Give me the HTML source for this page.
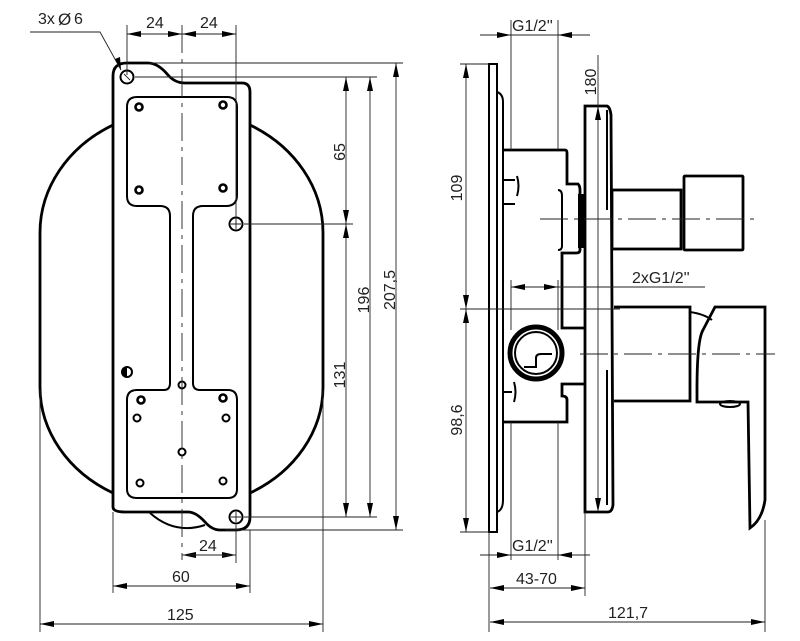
<!DOCTYPE html>
<html><head><meta charset="utf-8"><style>
html,body{margin:0;padding:0;background:#fff}
svg{display:block}
text{font-family:"Liberation Sans",sans-serif;font-size:16px;fill:#222}
.t{stroke:#000;stroke-width:2.8;fill:none}
.m{stroke:#000;stroke-width:2;fill:none}
.h{stroke:#222;stroke-width:0.9;fill:none}
.c{stroke:#222;stroke-width:0.9;fill:none;stroke-dasharray:28 6 4 6}
</style></head><body>
<svg width="800" height="641" viewBox="0 0 800 641" xmlns="http://www.w3.org/2000/svg">

<!-- LEFT VIEW -->
<path class="t" d="M113,125 A141,123 0 0 0 40,233 V387 A141,121 0 0 0 113,493"/>
<path class="t" d="M250,125 A141,123 0 0 1 323,233 V387 A141,121 0 0 1 250,493"/>
<path class="m" d="M150,513 Q175,535 205,525"/>
<path class="t" d="M113,507 V76 Q113,63 127,63 H148 Q158,63 168,75 Q175,83 185,83 H242 Q250,83 250,92 V517 Q250,530 236,530 H220 Q212,530 205,522 Q196,512 188,512 H125 Q113,512 113,507 Z"/>
<path class="m" d="M137,97 H227 Q237,97 237,107 V195 Q237,206 226,206 H203 Q193,206 193,216 V383 Q193,390 200,390 H228 Q237,390 237,400 V489 Q237,498 228,498 H137 Q127,498 127,489 V400 Q127,390 137,390 H164 Q170,390 170,383 V216 Q170,206 160,206 H137 Q127,206 127,196 V107 Q127,97 137,97 Z"/>
<g class="m">
<circle cx="127" cy="77" r="6.5"/><circle cx="236" cy="224" r="6.5"/><circle cx="236" cy="517" r="6.5"/>
<circle cx="139" cy="107" r="3.5" stroke-width="2.6"/><circle cx="223" cy="105" r="3.5" stroke-width="2.6"/>
<circle cx="139" cy="190" r="3.5" stroke-width="2.6"/><circle cx="223" cy="188" r="3.5" stroke-width="2.6"/>
<circle cx="141" cy="400" r="3.5" stroke-width="2.6"/><circle cx="223" cy="398" r="3.5" stroke-width="2.6"/>
<circle cx="137" cy="418" r="3.5"/><circle cx="226" cy="418" r="3.5"/>
<circle cx="140" cy="483" r="3.5"/><circle cx="223" cy="481" r="3.5"/>
<circle cx="182" cy="385" r="3.5"/><circle cx="182" cy="452" r="3.5"/>
</g>
<circle cx="127" cy="372" r="5" fill="#fff" stroke="#000" stroke-width="2"/>
<path d="M127,367 A5,5 0 0 0 127,377 Z" fill="#000"/>
<path class="h" d="M124,74 L130,80 M231,224 H241 M236,219 V229 M231,517 H241 M236,512 V522"/>
<line class="c" x1="182" y1="25" x2="182" y2="560"/>
<path class="h" d="M127,25 V75 M236,25 V224 M30,32 H100 L121,70"/>
<line class="h" x1="127" y1="34" x2="236" y2="34"/>
<path d="M127,34 l14,-3 v6z M182,34 l-14,-3 v6z M182,34 l14,-3 v6z M236,34 l-14,-3 v6z M121,70 l-6,-11 l5,-2z" fill="#000"/>
<text x="146" y="28">24</text><text x="200" y="28">24</text>
<text x="38" y="24">3x</text><text x="58" y="25" style="font-size:17px">Ø</text><text x="74" y="24">6</text>
<path class="h" d="M150,63 H403 M135,77 H377 M244,224 H353 M244,517 H377 M225,530 H403"/>
<line class="h" x1="346" y1="77" x2="346" y2="517"/>
<line class="h" x1="370" y1="77" x2="370" y2="517"/>
<line class="h" x1="396" y1="63" x2="396" y2="530"/>
<path d="M346,77 l-3,14 h6z M346,224 l-3,-14 h6z M346,224 l-3,14 h6z M346,517 l-3,-14 h6z M370,77 l-3,14 h6z M370,517 l-3,-14 h6z M396,63 l-3,14 h6z M396,530 l-3,-14 h6z" fill="#000"/>
<text transform="translate(345,152) rotate(-90)" text-anchor="middle">65</text>
<text transform="translate(345,375) rotate(-90)" text-anchor="middle">131</text>
<text transform="translate(369,300) rotate(-90)" text-anchor="middle">196</text>
<text transform="translate(395,290) rotate(-90)" text-anchor="middle">207,5</text>
<path class="h" d="M236,525 V563 M113,512 V593 M250,530 V593 M113,586 H250 M40,390 V632 M323,390 V632 M40,624 H323"/>
<path d="M182,555 l14,-3 v6z M236,555 l-14,-3 v6z M113,586 l14,-3 v6z M250,586 l-14,-3 v6z M40,624 l14,-3 v6z M323,624 l-14,-3 v6z" fill="#000"/>
<line class="h" x1="182" y1="555" x2="236" y2="555"/>
<text x="199" y="551">24</text><text x="172" y="582">60</text><text x="167" y="620">125</text>

<!-- RIGHT VIEW -->
<rect class="m" x="489" y="64" width="8" height="468"/>
<path class="m" d="M497,92 Q503,94 503,102 V500 Q503,510 497,512"/>
<path class="t" d="M503,150 H565 Q567,150 567,153 V184 H578 Q580,186 580,190 V250 Q580,253 576,253 H562 V328 H585"/>
<path class="t" d="M503,422 H567 V400 Q567,396 562,396 V384 H585"/>
<path class="m" d="M558,190 Q562,190 562,196 V246 Q562,250 558,250"/>
<path d="M578,194 H584 V248 H578Z" fill="#000"/>
<path class="m" d="M503,180 H515 M503,204 H515 M517,176 Q520,186 517,196 M503,392 H512 M514,382 Q517,392 514,402"/>
<circle cx="536" cy="353" r="26" fill="none" stroke="#000" stroke-width="5"/>
<circle cx="536" cy="353" r="21" class="m"/>
<path class="m" d="M524,367 H536 V358 Q536,354 541,354 H552"/>
<path class="t" d="M585,106 H607 Q610,107 611,115 L613,505 Q612,512 608,512 H585 Z"/>
<path class="m" d="M607,110 V210 M607,370 V505"/>
<rect class="t" x="612" y="190" width="69" height="59"/>
<rect class="t" x="684" y="176" width="59" height="74" rx="1"/>
<line class="c" x1="540" y1="219" x2="756" y2="219"/>
<path class="t" d="M614,307 H690 V401 H614"/>
<path class="m" d="M690,312 Q704,314 712,320"/>
<path class="t" d="M715,307 H765 V500 Q762,520 750,528 L748,402 H697 V390 Q697,340 703,330 Z"/>
<ellipse class="m" cx="730" cy="404" rx="10" ry="3"/>
<line class="c" x1="580" y1="354" x2="775" y2="354"/>
<path class="h" d="M511,20 V150 M558,20 V150 M480,35 H590 M598,55 V505 M460,64 H489 M460,532 H489 M466,64 V532 M460,309 H620 M511,280 V330 M558,280 V330 M511,287 H705"/>
<path d="M511,35 l-14,-3 v6z M558,35 l14,-3 v6z M598,106 l-3,14 h6z M598,512 l-3,-14 h6z M466,64 l-3,14 h6z M466,309 l-3,-14 h6z M466,309 l-3,14 h6z M466,532 l-3,-14 h6z M511,287 l14,-3 v6z M558,287 l-14,-3 v6z" fill="#000"/>
<text x="512" y="31">G1/2''</text>
<text transform="translate(596,82) rotate(-90)" text-anchor="middle">180</text>
<text transform="translate(462,188) rotate(-90)" text-anchor="middle">109</text>
<text transform="translate(462,420) rotate(-90)" text-anchor="middle">98,6</text>
<text x="632" y="283">2xG1/2''</text>
<path class="h" d="M511,422 V560 M558,422 V560 M480,555 H590 M489,532 V632 M585,512 V596 M490,588 H585 M765,520 V632 M490,622 H765"/>
<path d="M511,555 l-14,-3 v6z M558,555 l14,-3 v6z M490,588 l14,-3 v6z M585,588 l-14,-3 v6z M490,622 l14,-3 v6z M765,622 l-14,-3 v6z" fill="#000"/>
<text x="512" y="551">G1/2''</text>
<text x="516" y="584">43-70</text>
<text x="608" y="618">121,7</text>
</svg>
</body></html>
